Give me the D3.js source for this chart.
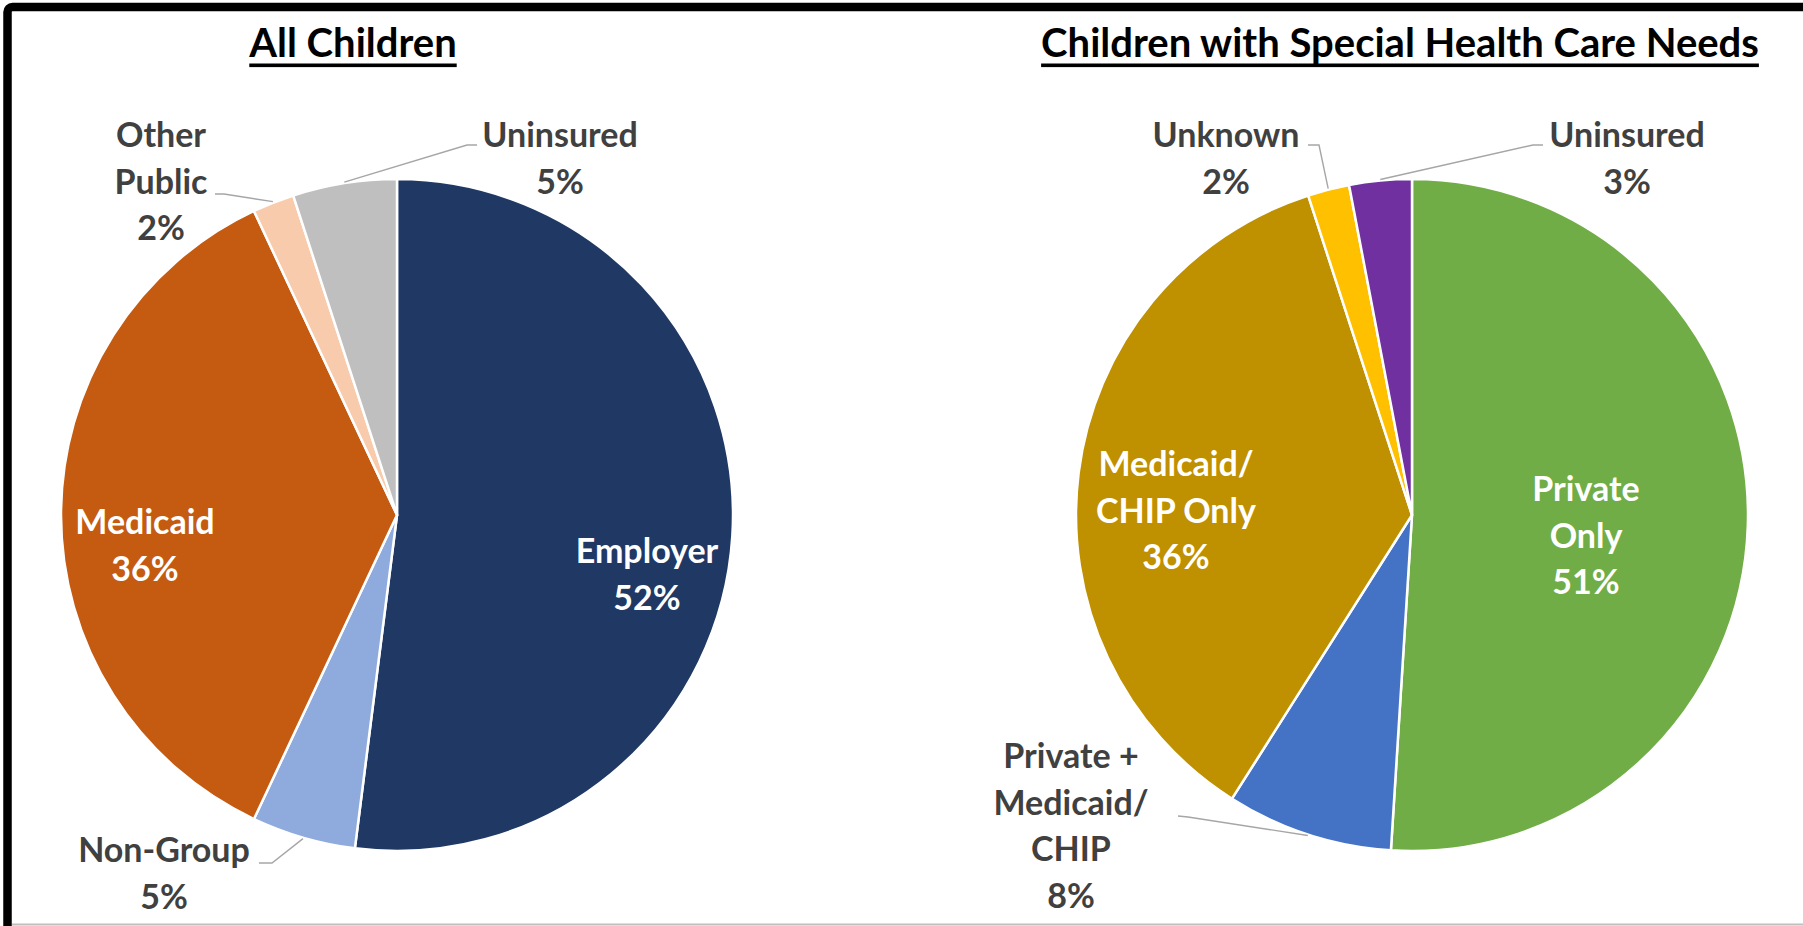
<!DOCTYPE html>
<html>
<head>
<meta charset="utf-8">
<script src="https://cdn.jsdelivr.net/npm/d3@7"></script>
<style>
  html, body { margin: 0; padding: 0; background: #fff; }
  svg { display: block; }
  text { font-family: Lato, "Open Sans", sans-serif; font-weight: 700; }
</style>
</head>
<body>
<svg id="chart" width="1803" height="926"></svg>
<script>
// All children, by coverage source (percent)
const allLabels = ["Employer", "Non-Group", "Medicaid", "Other Public", "Uninsured"];
const allValues = [52, 5, 36, 2, 5];
const allColors = ["#203864", "#8faadc", "#c55a11", "#f8cbad", "#bfbfbf"];

// Children with special health care needs (percent)
const cshcnLabels = ["Private Only", "Private + Medicaid/CHIP", "Medicaid/CHIP Only", "Unknown", "Uninsured"];
const cshcnValues = [51, 8, 36, 2, 3];
const cshcnColors = ["#70ad47", "#4472c4", "#bf9000", "#ffc000", "#7030a0"];

// label text lines (last line is the percent, filled in from the values)
const allLines = [["Employer"], ["Non-Group"], ["Medicaid"], ["Other", "Public"], ["Uninsured"]];
const cshcnLines = [["Private", "Only"], ["Private +", "Medicaid/", "CHIP"], ["Medicaid/", "CHIP Only"], ["Unknown"], ["Uninsured"]];

const svg = d3.select("#chart");
const R = 336;
const LH = 46.5;

// frame: heavy black on top/left, light rule along the bottom
svg.append("rect")
  .attr("x", 7.5).attr("y", 7)
  .attr("width", 1900).attr("height", 1100)
  .attr("rx", 5)
  .attr("fill", "none")
  .attr("stroke", "#000")
  .attr("stroke-width", 8.5);
svg.append("line")
  .attr("x1", 12).attr("x2", 1803)
  .attr("y1", 924.5).attr("y2", 924.5)
  .attr("stroke", "#bfbfbf").attr("stroke-width", 2);

function drawPie(opts) {
  const g = svg.append("g");
  const pie = d3.pie().sort(null).value(d => d);
  const arcs = pie(opts.values);
  const arc = d3.arc().innerRadius(0).outerRadius(R);

  const pg = g.append("g").attr("transform", `translate(${opts.cx},${opts.cy})`);
  pg.selectAll("path")
    .data(arcs)
    .join("path")
    .attr("d", arc)
    .attr("fill", (d, i) => opts.colors[i])
    .attr("stroke", "#fff")
    .attr("stroke-width", 2.5)
    .attr("stroke-linejoin", "round");

  // title with underline
  const t = g.append("text")
    .attr("x", opts.titleX).attr("y", 57)
    .attr("text-anchor", "middle")
    .attr("font-size", opts.titleSize)
    .attr("fill", "#000")
    .text(opts.title);
  const w = t.node().getComputedTextLength();
  g.append("rect")
    .attr("x", opts.titleX - w / 2).attr("y", 63.5)
    .attr("width", w).attr("height", 3.6)
    .attr("fill", "#000");

  // leader lines from label to the middle of the slice's rim
  opts.leaders.forEach(ld => {
    const a = arcs[ld.i];
    const mid = (a.startAngle + a.endAngle) / 2;
    const ex = opts.cx + (R + 1) * Math.sin(mid);
    const ey = opts.cy - (R + 1) * Math.cos(mid);
    const pts = ld.from.concat([[ex, ey]]);
    g.append("polyline")
      .attr("points", pts.map(p => p.join(",")).join(" "))
      .attr("fill", "none")
      .attr("stroke", "#a6a6a6")
      .attr("stroke-width", 1.4);
  });

  // data labels
  opts.labels.forEach(lb => {
    const lines = opts.lines[lb.i].concat([opts.values[lb.i] + "%"]);
    const txt = g.append("text")
      .attr("text-anchor", "middle")
      .attr("font-size", 34)
      .attr("fill", lb.inside ? "#fff" : "#404040");
    lines.forEach((s, k) => {
      txt.append("tspan")
        .attr("x", lb.x)
        .attr("y", lb.y + k * LH)
        .text(s);
    });
  });
}

drawPie({
  cx: 397, cy: 515,
  values: allValues, colors: allColors, lines: allLines,
  title: "All Children", titleX: 353, titleSize: 40,
  labels: [
    { i: 0, x: 647, y: 563, inside: true },
    { i: 1, x: 164, y: 862 },
    { i: 2, x: 145, y: 534, inside: true },
    { i: 3, x: 161, y: 147 },
    { i: 4, x: 560, y: 147 }
  ],
  leaders: [
    { i: 1, from: [[259, 863], [272, 863]] },
    { i: 3, from: [[215, 194], [224, 194]] },
    { i: 4, from: [[477, 145], [467, 145]] }
  ]
});

drawPie({
  cx: 1412, cy: 515,
  values: cshcnValues, colors: cshcnColors, lines: cshcnLines,
  title: "Children with Special Health Care Needs", titleX: 1400, titleSize: 40,
  labels: [
    { i: 0, x: 1586, y: 501, inside: true },
    { i: 1, x: 1071, y: 768 },
    { i: 2, x: 1176, y: 476, inside: true },
    { i: 3, x: 1226, y: 147 },
    { i: 4, x: 1627, y: 147 }
  ],
  leaders: [
    { i: 1, from: [[1178, 816], [1188, 817]] },
    { i: 3, from: [[1308, 145], [1319, 145]] },
    { i: 4, from: [[1543, 145], [1533, 145]] }
  ]
});
</script>
</body>
</html>
